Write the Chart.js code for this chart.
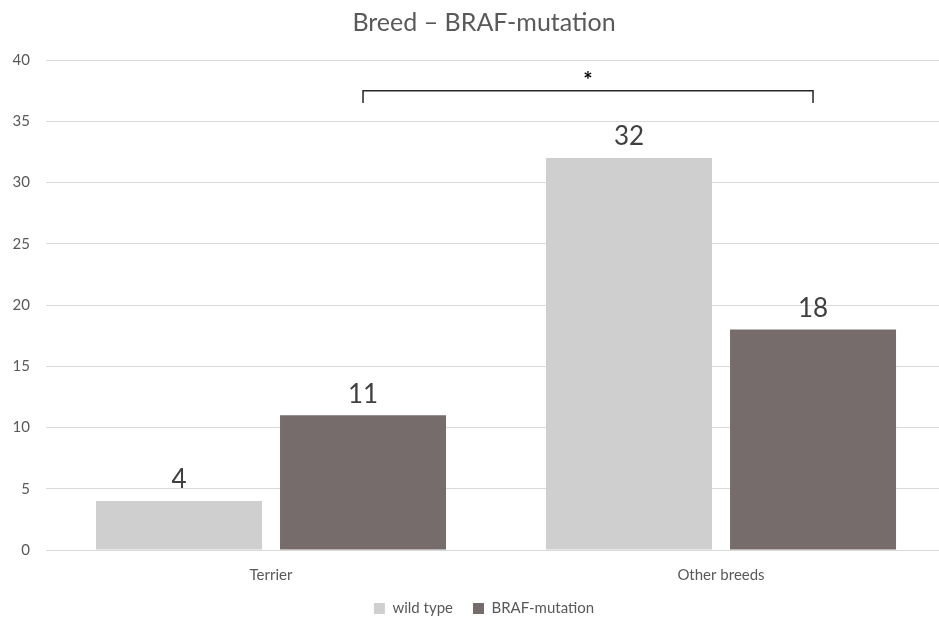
<!DOCTYPE html>
<html>
<head>
<meta charset="utf-8">
<script src="https://cdn.jsdelivr.net/npm/chart.js@4/dist/chart.umd.min.js"></script>
<style>
  html, body { margin: 0; padding: 0; background: #fff; overflow: hidden; }
  #wrap { width: 968px; height: 621px; }
</style>
</head>
<body>
<div id="wrap"><canvas id="breedChart"></canvas></div>
<script>
// chart data
const categories = ['Terrier', 'Other breeds'];
const wildType = [4, 32];
const brafMutation = [11, 18];
const yTicks = [0, 5, 10, 15, 20, 25, 30, 35, 40];

// significance bracket between the two BRAF bars
const bracketLevel = 37.5;
const bracketDrop = 36.5;
const bracketLabel = '*';

const FONT = "Lato, 'Liberation Sans', sans-serif";
const TEXT = '#595959';

// value labels above each bar
const barLabels = {
    id: 'barLabels',
    afterDatasetsDraw(chart) {
        const ctx = chart.ctx;
        ctx.save();
        ctx.font = '26px ' + FONT;
        ctx.fillStyle = '#404040';
        ctx.textAlign = 'center';
        ctx.textBaseline = 'bottom';
        chart.data.datasets.forEach((ds, i) => {
            chart.getDatasetMeta(i).data.forEach((bar, j) => {
                ctx.fillText(ds.data[j], bar.x, bar.y - 8);
            });
        });
        ctx.restore();
    }
};

// bracket with star
const sigBracket = {
    id: 'sigBracket',
    afterDatasetsDraw(chart) {
        const ctx = chart.ctx;
        const y = chart.scales.y;
        const bars = chart.getDatasetMeta(1).data;
        const x1 = bars[0].x, x2 = bars[1].x;
        const top = y.getPixelForValue(bracketLevel);
        const bottom = y.getPixelForValue(bracketDrop);
        ctx.save();
        ctx.strokeStyle = '#262626';
        ctx.lineWidth = 1.5;
        ctx.beginPath();
        ctx.moveTo(x1, bottom);
        ctx.lineTo(x1, top);
        ctx.lineTo(x2, top);
        ctx.lineTo(x2, bottom);
        ctx.stroke();
        ctx.fillStyle = '#000';
        ctx.font = 'bold 22px ' + FONT;
        ctx.textAlign = 'center';
        ctx.textBaseline = 'middle';
        ctx.fillText(bracketLabel, (x1 + x2) / 2, top - 10);
        ctx.restore();
    }
};

// fix legend height so the plot reaches down like the original
const legendHeight = {
    id: 'legendHeight',
    beforeInit(chart) {
        const fit = chart.legend.fit;
        chart.legend.fit = function () {
            fit.bind(chart.legend)();
            this.height = 40;
        };
    }
};

const ctx = document.getElementById('breedChart').getContext('2d');
const chart = new Chart(ctx, {
    type: 'bar',
    data: {
        labels: categories,
        datasets: [{
            label: 'wild type',
            data: wildType,
            backgroundColor: '#cfcfcf',
            categoryPercentage: 0.818,
            barPercentage: 0.902
        }, {
            label: 'BRAF-mutation',
            data: brafMutation,
            backgroundColor: '#766c6c',
            categoryPercentage: 0.818,
            barPercentage: 0.902
        }]
    },
    options: {
        responsive: true,
        maintainAspectRatio: false,
        animation: false,
        layout: { padding: { top: 8, right: 0, bottom: 0, left: 0 } },
        plugins: {
            title: {
                display: true,
                text: 'Breed – BRAF-mutation',
                color: TEXT,
                font: { family: FONT, size: 25, weight: 'normal' },
                padding: { top: 0, bottom: 22 }
            },
            legend: {
                position: 'bottom',
                labels: {
                    color: TEXT,
                    font: { family: FONT, size: 15 },
                    boxWidth: 11,
                    boxHeight: 11,
                    padding: 20
                }
            },
            tooltip: { enabled: false }
        },
        scales: {
            x: {
                afterFit(scale) { scale.height = 31; },
                grid: { display: false, drawTicks: false },
                border: { display: false },
                ticks: { color: TEXT, font: { family: FONT, size: 15 }, padding: 16 }
            },
            y: {
                min: 0,
                max: 40,
                afterBuildTicks(scale) {
                    scale.ticks = yTicks.map(v => ({ value: v }));
                },
                afterFit(scale) { scale.width = 46; },
                grid: { color: '#d9d9d9', drawTicks: false },
                border: { display: false },
                ticks: { color: TEXT, font: { family: FONT, size: 15 }, padding: 16 }
            },
            // empty right margin axis, keeps title and legend centred like the original
            yRight: {
                position: 'right',
                afterFit(scale) { scale.width = 22; },
                grid: { display: false, drawTicks: false },
                border: { display: false },
                ticks: { display: false }
            }
        }
    },
    plugins: [legendHeight, barLabels, sigBracket]
});
</script>
</body>
</html>
